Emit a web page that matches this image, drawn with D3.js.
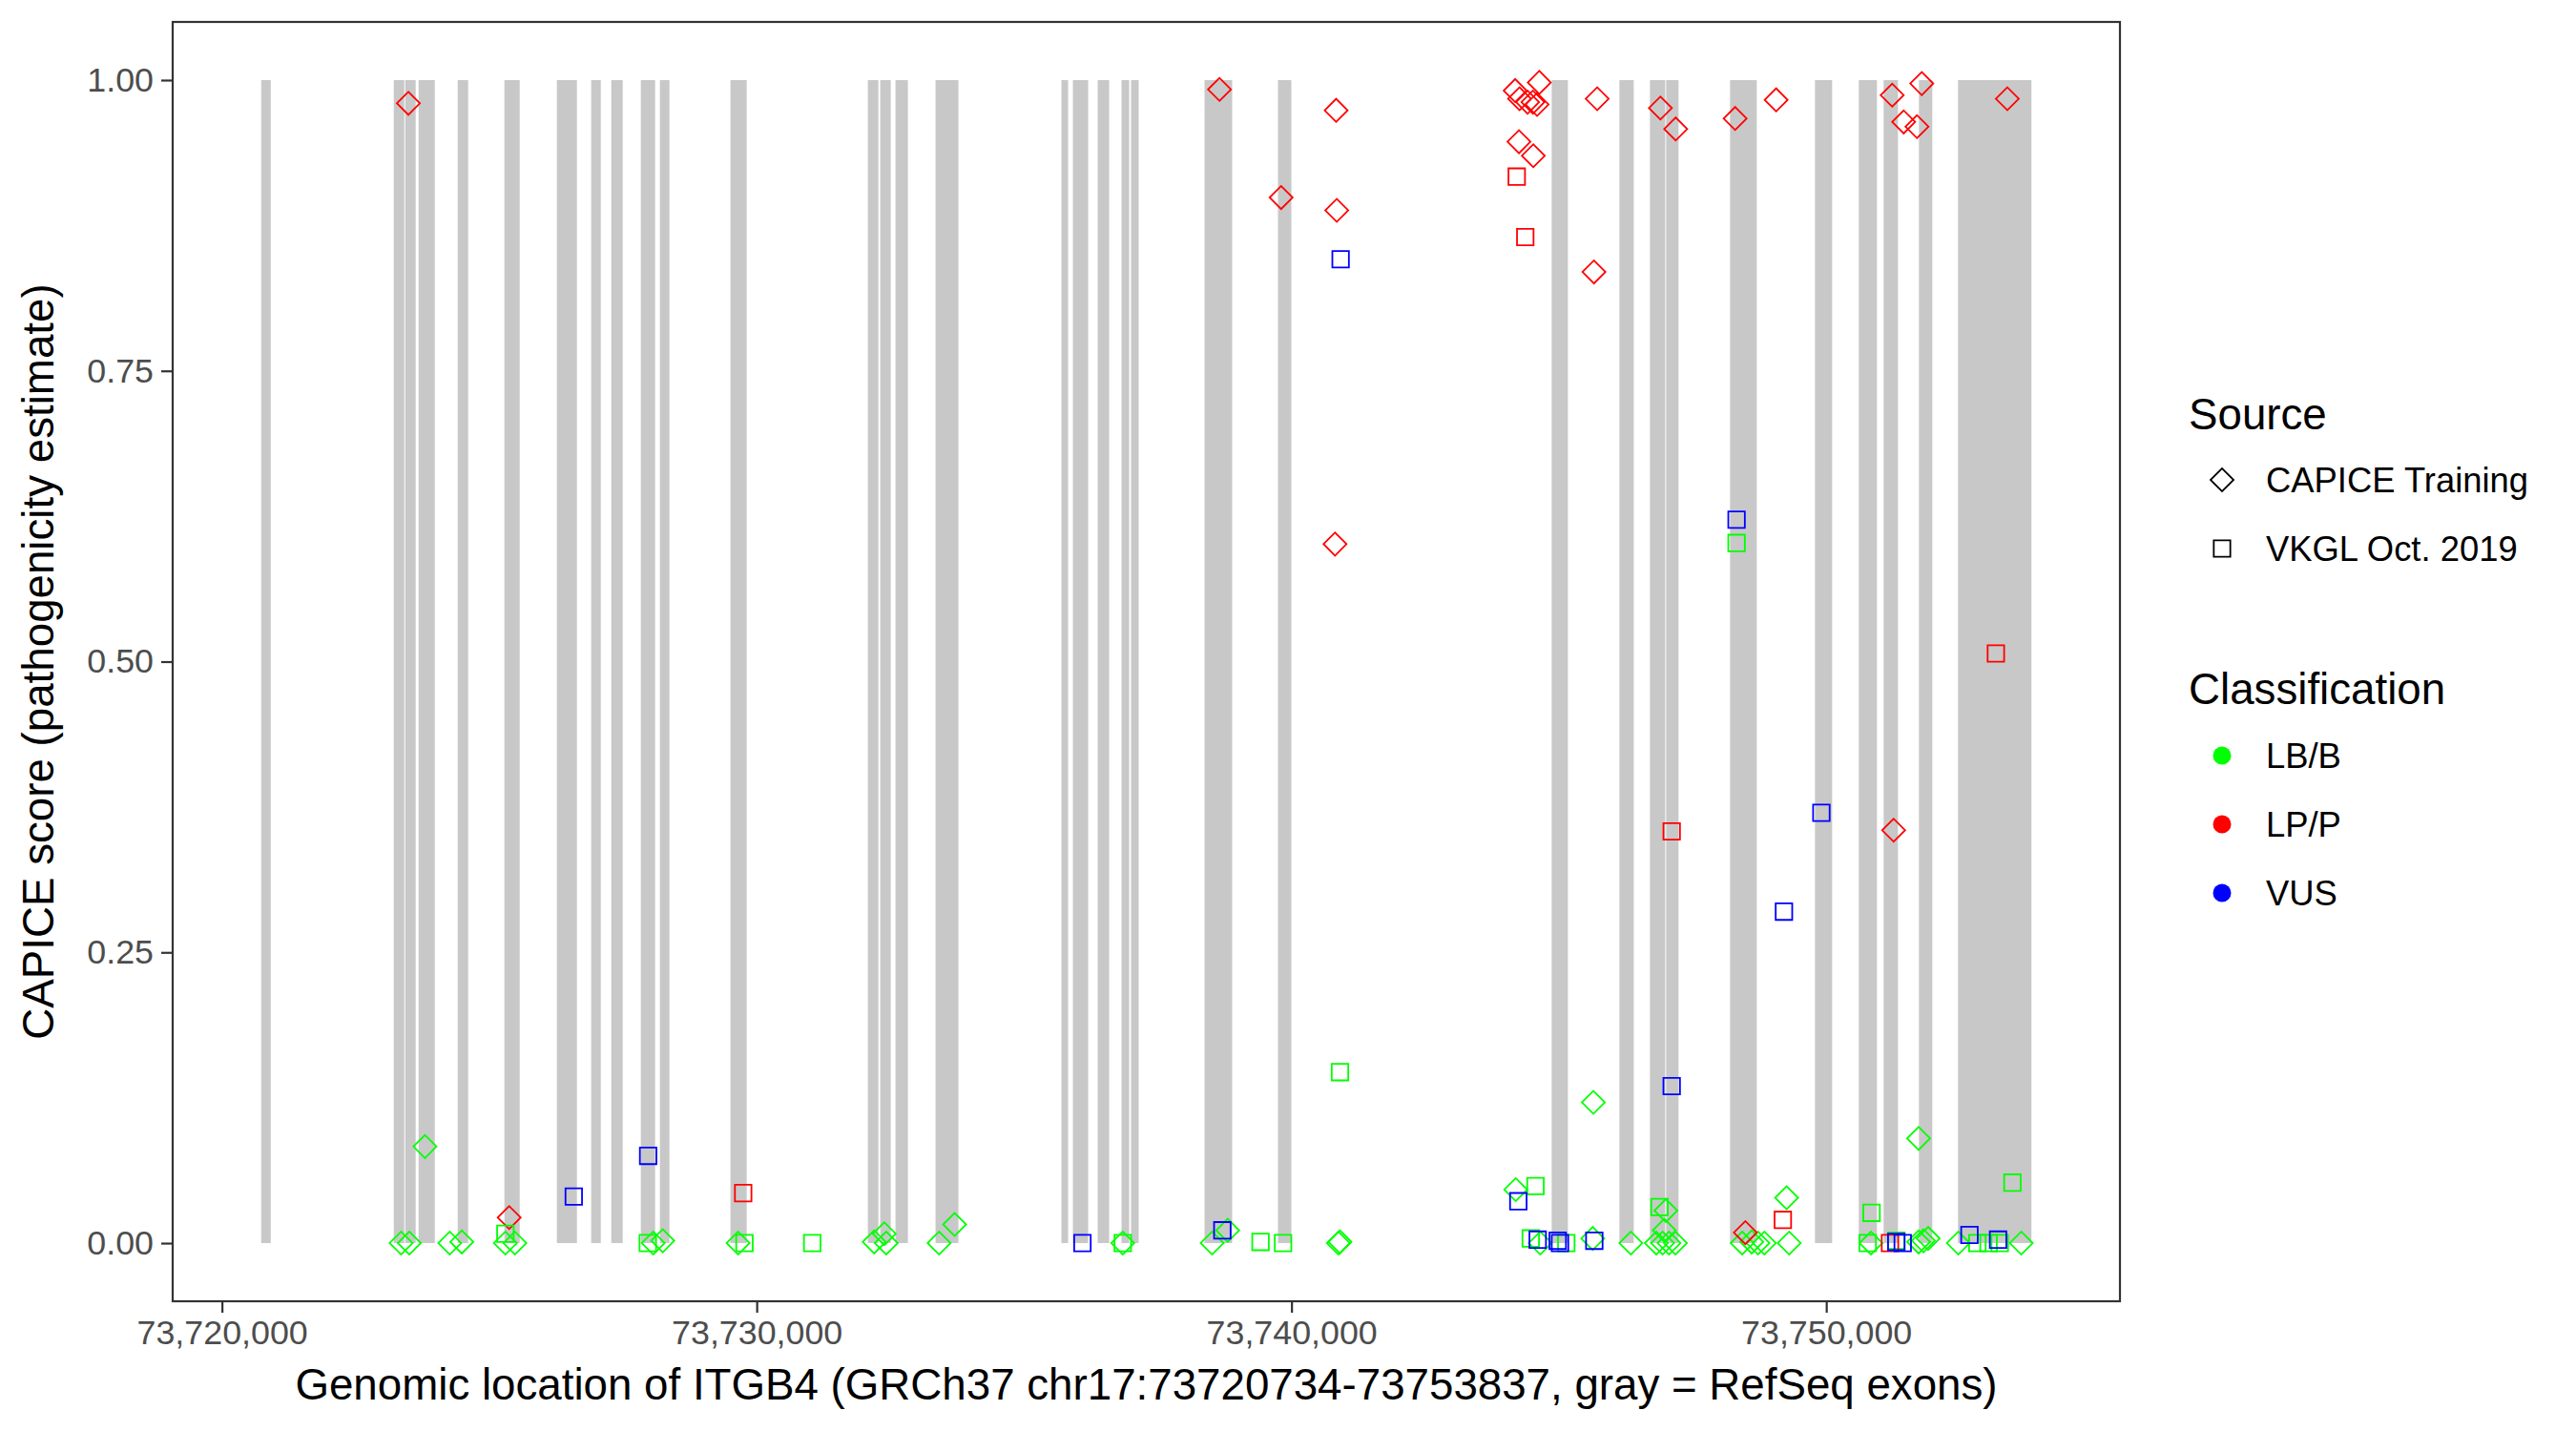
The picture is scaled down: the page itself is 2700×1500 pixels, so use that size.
<!DOCTYPE html>
<html>
<head>
<meta charset="utf-8">
<script src="https://cdn.jsdelivr.net/npm/d3@7"></script>
<style>
  html, body { margin: 0; padding: 0; background: #ffffff; }
  svg text { font-family: "Liberation Sans", Arial, Helvetica, sans-serif; }
</style>
</head>
<body>
<svg id="chart" width="2700" height="1500"></svg>
<script>
// ---------------- DATA ----------------
const geneStart = 73720734;
const geneEnd = 73753837;

const exonStarts = [73720734, 73723213, 73723427, 73723677, 73724408, 73725282, 73726263, 73726905, 73727280, 73727833,
  73728189, 73729509, 73732078, 73732310, 73732595, 73733344, 73735698, 73735912, 73736376, 73736822,
  73737000, 73738374, 73739747, 73744866, 73746132, 73746703, 73747006, 73748201, 73749789, 73750609,
  73751073, 73751733, 73752464];
const exonEnds = [73720912, 73723409, 73723623, 73723980, 73724604, 73725568, 73726638, 73727084, 73727494, 73728100,
  73728368, 73729813, 73732274, 73732506, 73732827, 73733772, 73735823, 73736198, 73736590, 73736965,
  73737143, 73738891, 73739997, 73745169, 73746400, 73746989, 73747238, 73748701, 73750110, 73750948,
  73751341, 73751983, 73753837];

// [genomic position, CAPICE score]
const capiceLBB = [[73723351,0],[73723504,0],[73723796,0.083],[73724260,0],[73724485,0.001],[73725300,0],[73725478,0],
  [73728065,0],[73728243,0.002],[73729652,0],[73732197,0.001],[73732386,0.008],[73732422,0],[73733410,0],[73733701,0.016],
  [73736845,0],[73738516,0],[73738807,0.011],[73740876,0],[73740907,0.001],[73744194,0.046],[73744652,0],[73745633,0.004],
  [73745645,0.121],[73746346,0],[73746823,0],[73746940,0],[73746971,0.011],[73747001,0.028],[73747060,0],[73747180,0],
  [73748428,0],[73748606,0.001],[73748724,0],[73748843,0],[73749259,0.039],[73749307,0],[73750836,0],[73751727,0.090],
  [73751727,0.001],[73751817,0.002],[73751906,0.004],[73752470,0],[73753647,0]];
const capiceLPP = [[73723486,0.980],[73725371,0.022],[73738654,0.992],[73739806,0.899],[73740835,0.974],[73740847,0.888],
  [73740814,0.601],[73744183,0.991],[73744634,0.998],[73744265,0.984],[73744415,0.981],[73744515,0.981],[73744593,0.979],
  [73744254,0.947],[73744522,0.935],[73745717,0.984],[73745656,0.835],[73746899,0.976],[73747185,0.958],[73748296,0.967],
  [73749063,0.983],[73748487,0.009],[73751260,0.355],[73751233,0.987],[73751786,0.997],[73751448,0.964],[73751697,0.960],
  [73753386,0.984]];
const vkglLBB = [[73725300,0.008],[73727963,0],[73729771,0],[73731038,0],[73736845,0],[73739421,0.001],[73739842,0],
  [73740907,0.147],[73744474,0.004],[73744563,0.049],[73745139,0],[73746882,0.031],[73748323,0.602],[73750775,0],
  [73750847,0.026],[73751310,0.002],[73752826,0],[73753035,0],[73753244,0],[73753481,0.052]];
const vkglLPP = [[73729747,0.043],[73744212,0.917],[73744372,0.865],[73747110,0.354],[73749188,0.020],[73751192,0],
  [73753172,0.507]];
const vkglVUS = [[73726579,0.040],[73727970,0.075],[73736091,0],[73738707,0.011],[73740919,0.846],[73744242,0.036],
  [73744604,0.003],[73744978,0.002],[73745021,0],[73745663,0.002],[73747110,0.135],[73748323,0.622],[73749909,0.370],
  [73749209,0.285],[73751310,0.001],[73751430,0],[73752678,0.007],[73753213,0.003]];

const xTicks = [73720000, 73730000, 73740000, 73750000];
const yTicks = [0, 0.25, 0.5, 0.75, 1];
const sourceLabels = ["CAPICE Training", "VKGL Oct. 2019"];
const classLabels = ["LB/B", "LP/P", "VUS"];
const classColors = ["#00FF00", "#FF0000", "#0000FF"];
const xTitle = "Genomic location of ITGB4 (GRCh37 chr17:73720734-73753837, gray = RefSeq exons)";
const yTitle = "CAPICE score (pathogenicity estimate)";

// ---------------- LAYOUT ----------------
const panel = {left: 181, right: 2222, top: 23, bottom: 1364};
const svg = d3.select("#chart");

const pad = 0.05 * (geneEnd - geneStart);
const x = d3.scaleLinear().domain([geneStart - pad, geneEnd + pad]).range([panel.left, panel.right]);
const y = d3.scaleLinear().domain([-0.05, 1.05]).range([panel.bottom, panel.top]);

const color = d3.scaleOrdinal().domain(classLabels).range(classColors);

// exons
const exons = exonStarts.map((s, i) => ({start: s, end: exonEnds[i]}));
svg.append("g").selectAll("rect").data(exons).join("rect")
  .attr("x", d => x(d.start))
  .attr("width", d => Math.max(1, x(d.end) - x(d.start)))
  .attr("y", y(1))
  .attr("height", y(0) - y(1))
  .attr("fill", "#C8C8C8");

// points
const diamondPath = d3.symbol(d3.symbolSquare, 290)();
const squarePath = d3.symbol(d3.symbolSquare, 300)();

const groups = [
  {data: capiceLBB, source: 0, cls: "LB/B"},
  {data: capiceLPP, source: 0, cls: "LP/P"},
  {data: vkglLBB, source: 1, cls: "LB/B"},
  {data: vkglLPP, source: 1, cls: "LP/P"},
  {data: vkglVUS, source: 1, cls: "VUS"}
];
const pts = [];
groups.forEach(g => g.data.forEach(p => pts.push({pos: p[0], score: p[1], source: g.source, cls: g.cls})));

svg.append("g").selectAll("path").data(pts).join("path")
  .attr("d", d => d.source === 0 ? diamondPath : squarePath)
  .attr("transform", d => `translate(${x(d.pos)},${y(d.score)})` + (d.source === 0 ? " rotate(45)" : ""))
  .attr("fill", "none")
  .attr("stroke", d => color(d.cls))
  .attr("stroke-width", 1.8);

// panel border
svg.append("rect")
  .attr("x", panel.left).attr("y", panel.top)
  .attr("width", panel.right - panel.left).attr("height", panel.bottom - panel.top)
  .attr("fill", "none").attr("stroke", "#333333").attr("stroke-width", 2.2);

// axes
const xAxis = d3.axisBottom(x).tickValues(xTicks).tickFormat(d3.format(",")).tickSizeInner(12).tickSizeOuter(0).tickPadding(8);
const gx = svg.append("g").attr("transform", `translate(0,${panel.bottom})`).call(xAxis);
gx.select(".domain").remove();
gx.selectAll(".tick line").attr("stroke", "#333333").attr("stroke-width", 2.2);
gx.selectAll(".tick text").attr("fill", "#4D4D4D").attr("font-size", 35.8).attr("font-family", "Liberation Sans, Arial, sans-serif");

const yAxis = d3.axisLeft(y).tickValues(yTicks).tickFormat(d3.format(".2f")).tickSizeInner(12).tickSizeOuter(0).tickPadding(8);
const gy = svg.append("g").attr("transform", `translate(${panel.left},0)`).call(yAxis);
gy.select(".domain").remove();
gy.selectAll(".tick line").attr("stroke", "#333333").attr("stroke-width", 2.2);
gy.selectAll(".tick text").attr("fill", "#4D4D4D").attr("font-size", 35.8).attr("font-family", "Liberation Sans, Arial, sans-serif");

// axis titles
svg.append("text")
  .attr("x", (panel.left + panel.right) / 2).attr("y", 1467)
  .attr("text-anchor", "middle").attr("font-size", 45.7).attr("fill", "#000")
  .text(xTitle);
svg.append("text")
  .attr("transform", `translate(56,${(panel.top + panel.bottom) / 2}) rotate(-90)`)
  .attr("text-anchor", "middle").attr("font-size", 45.7).attr("fill", "#000")
  .text(yTitle);

// legend
const leg = svg.append("g");
leg.append("text").attr("x", 2294).attr("y", 450).attr("font-size", 45.7).text("Source");
const srcY = [503, 575];
sourceLabels.forEach((lab, i) => {
  leg.append("path")
    .attr("d", i === 0 ? diamondPath : squarePath)
    .attr("transform", `translate(2329,${srcY[i]})` + (i === 0 ? " rotate(45)" : ""))
    .attr("fill", "none").attr("stroke", "#000").attr("stroke-width", 1.8);
  leg.append("text").attr("x", 2375).attr("y", srcY[i] + 12.8).attr("font-size", 36.4).text(lab);
});
leg.append("text").attr("x", 2294).attr("y", 738).attr("font-size", 45.7).text("Classification");
const clsY = [792, 864, 936];
classLabels.forEach((lab, i) => {
  leg.append("circle").attr("cx", 2329).attr("cy", clsY[i]).attr("r", 9.5).attr("fill", color(lab));
  leg.append("text").attr("x", 2375).attr("y", clsY[i] + 12.8).attr("font-size", 36.4).text(lab);
});
</script>
</body>
</html>
